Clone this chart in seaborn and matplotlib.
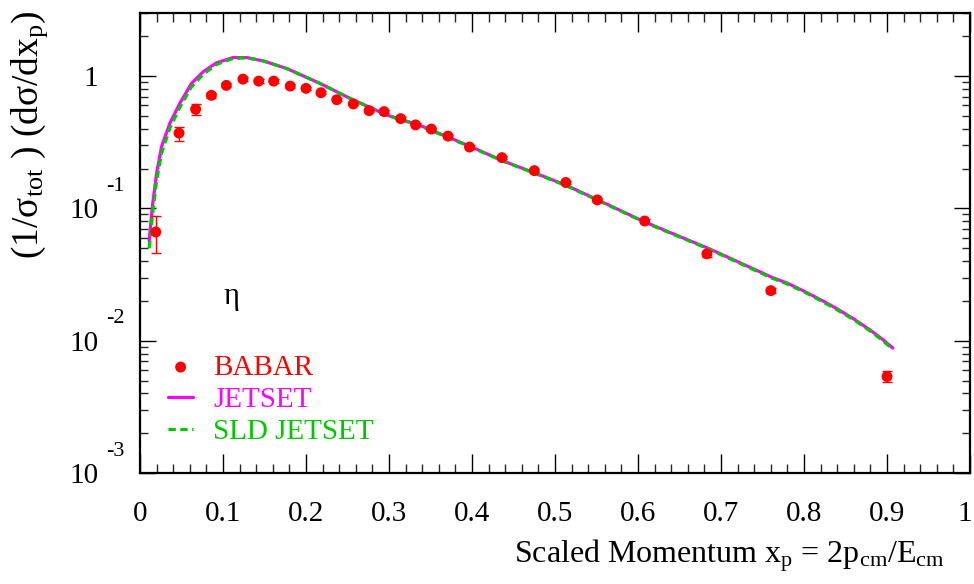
import matplotlib
matplotlib.use("Agg")
import numpy as np
import pandas as pd
import matplotlib.pyplot as plt
import matplotlib.transforms as mtransforms
import seaborn as sns
from matplotlib.ticker import FixedLocator, MultipleLocator, LogLocator, NullFormatter, FuncFormatter

# ---- data -------------------------------------------------------------
# BABAR eta spectrum: scaled momentum, (1/sigma) dsigma/dx, uncertainty
babar_x = [0.019, 0.047, 0.067, 0.086, 0.104, 0.124, 0.143, 0.161, 0.181, 0.200,
           0.218, 0.237, 0.257, 0.276, 0.294, 0.314, 0.332, 0.351, 0.371, 0.397,
           0.436, 0.475, 0.513, 0.551, 0.608, 0.683, 0.760, 0.900]
babar_y = [0.0664, 0.371, 0.562, 0.716, 0.851, 0.949, 0.917, 0.917, 0.841, 0.808,
           0.749, 0.663, 0.616, 0.548, 0.539, 0.477, 0.428, 0.398, 0.352, 0.291,
           0.242, 0.193, 0.157, 0.116, 0.0803, 0.0453, 0.0239, 0.00536]
babar_err = [0.0205, 0.045, 0.053, 0.030, 0.030, 0.030, 0.028, 0.026, 0.024, 0.022,
             0.020, 0.018, 0.016, 0.015, 0.014, 0.012, 0.011, 0.010, 0.009, 0.008,
             0.007, 0.006, 0.005, 0.004, 0.003, 0.002, 0.001, 0.0005]

# JETSET prediction
jetset_x = [0.011, 0.0149, 0.020, 0.026, 0.036, 0.048, 0.062, 0.076, 0.092, 0.112,
            0.129, 0.149, 0.177, 0.217, 0.257, 0.297, 0.337, 0.398, 0.437, 0.475,
            0.513, 0.552, 0.609, 0.686, 0.761, 0.780, 0.800, 0.820, 0.840, 0.860,
            0.880, 0.895, 0.907]
jetset_y = [0.057, 0.104, 0.185, 0.294, 0.441, 0.623, 0.881, 1.077, 1.26, 1.381,
            1.38, 1.30, 1.14, 0.88, 0.66, 0.509, 0.425, 0.294, 0.229, 0.186,
            0.150, 0.1156, 0.0785, 0.0495, 0.0302, 0.0272, 0.0237, 0.0204, 0.0174,
            0.0146, 0.0120, 0.0102, 0.0088]

# SLD-tuned JETSET prediction
sld_x = [0.011, 0.0149, 0.020, 0.026, 0.036, 0.048, 0.062, 0.076, 0.092, 0.112,
         0.129, 0.149, 0.177, 0.217, 0.257, 0.297, 0.337, 0.398, 0.437, 0.475,
         0.513, 0.552, 0.609, 0.686, 0.761, 0.780, 0.800, 0.820, 0.840, 0.860,
         0.880, 0.895, 0.907]
sld_y = [0.050, 0.088, 0.163, 0.262, 0.405, 0.580, 0.830, 1.03, 1.225, 1.36,
         1.375, 1.30, 1.14, 0.88, 0.66, 0.507, 0.422, 0.292, 0.228, 0.185,
         0.149, 0.1148, 0.078, 0.0490, 0.0298, 0.0268, 0.0234, 0.0201, 0.0171,
         0.0144, 0.0118, 0.0100, 0.0086]

x_ticks = [0, 0.1, 0.2, 0.3, 0.4, 0.5, 0.6, 0.7, 0.8, 0.9, 1.0]
y_ticks = [1e-3, 1e-2, 1e-1, 1.0]
y_tick_labels = ["10", "10", "10", "1"]
y_exponents = ["-3", "-2", "-1"]

RED = "#ff0000"
MAGENTA = "#ff00ff"
GREEN = "#00c800"

# ---- style ------------------------------------------------------------
sns.set_theme(style="ticks")
plt.rcParams["font.family"] = ["Liberation Serif", "DejaVu Serif"]
plt.rcParams["mathtext.fontset"] = "custom"
plt.rcParams["mathtext.rm"] = "Liberation Serif"
plt.rcParams["mathtext.it"] = "Liberation Serif:italic"
plt.rcParams["mathtext.bf"] = "Liberation Serif:bold"

W, H = 974, 584
fig = plt.figure(figsize=(W / 100, H / 100), dpi=100)
fig.patch.set_facecolor("white")
ax = fig.add_axes([140 / W, 1 - 473 / H, 830 / W, 460 / H])
ax.set_facecolor("white")

babar = pd.DataFrame({"x": babar_x, "y": babar_y, "err": babar_err})
jetset = pd.DataFrame({"x": jetset_x, "y": jetset_y})
sld = pd.DataFrame({"x": sld_x, "y": sld_y})

ax.set_yscale("log")

# model curves
sns.lineplot(data=jetset, x="x", y="y", ax=ax, color=MAGENTA, lw=2.3,
             estimator=None, sort=False, zorder=2)
line_jetset = ax.lines[-1]
sns.lineplot(data=sld, x="x", y="y", ax=ax, color=GREEN, lw=2.3,
             estimator=None, sort=False, zorder=3)
line_sld = ax.lines[-1]
line_sld.set_linestyle((0, (2.3, 1.4)))

# data with error bars
ax.errorbar(babar["x"], babar["y"], yerr=babar["err"], fmt="none",
            ecolor=RED, elinewidth=1.0, capsize=3.6, capthick=1.0, zorder=4)
sns.scatterplot(data=babar, x="x", y="y", ax=ax, color=RED, s=62,
                edgecolor="none", linewidth=0, zorder=5)
pts = ax.collections[-1]

# ---- axes ---------------------------------------------------------------
ax.set_xlim(0, 1)
ax.set_ylim(1e-3, 3)
ax.xaxis.set_major_locator(FixedLocator(x_ticks))
ax.xaxis.set_minor_locator(MultipleLocator(0.02))
ax.xaxis.set_major_formatter(FuncFormatter(lambda v, p: f"{v:g}"))
ax.yaxis.set_major_locator(FixedLocator(y_ticks))
ax.yaxis.set_minor_locator(LogLocator(base=10, subs=np.arange(2, 10)))
ax.yaxis.set_minor_formatter(NullFormatter())
ax.set_yticklabels(y_tick_labels)

for s in ax.spines.values():
    s.set_visible(True)
    s.set_linewidth(1.6)
    s.set_color("black")

ax.tick_params(axis="x", which="major", direction="in", length=13.5, width=1.0,
               top=True, bottom=True, labelsize=21, pad=20, colors="black")
ax.tick_params(axis="x", which="minor", direction="in", length=6.5, width=1.0,
               top=True, bottom=True)
ax.tick_params(axis="y", which="major", direction="in", length=11.5, width=1.0,
               left=True, right=True, labelsize=21, pad=30, colors="black")
ax.tick_params(axis="y", which="minor", direction="in", length=6, width=1.0,
               left=True, right=True)
ax.grid(False)

# raised exponents for the decade labels
for val, ex in zip(y_ticks[:3], y_exponents):
    ax.annotate(ex, xy=(0, val), xycoords=ax.get_yaxis_transform(),
                xytext=(-34, 22), textcoords="offset pixels",
                ha="left", va="center", fontsize=16, color="black",
                annotation_clip=False)

ax.set_xlabel(r"Scaled Momentum x$_\mathregular{p}$ = 2p$_\mathregular{cm}$/E$_\mathregular{cm}$",
              fontsize=23, color="black", ha="right")
ax.xaxis.set_label_coords(0.97, -0.14)
ax.set_ylabel("")

fig.text(30 / W, 1 - 10 / H,
         r"(1/σ$_\mathregular{tot}$ ) (dσ/dx$_\mathregular{p}$)",
         rotation=90, ha="center", va="top", fontsize=27, color="black")

ax.text(0.11, 0.383, "η", transform=ax.transAxes, fontsize=22,
        ha="center", va="center", color="black")

leg = ax.legend(handles=[pts, line_jetset, line_sld],
                labels=["BABAR", "JETSET", "SLD JETSET"],
                loc="upper left", bbox_to_anchor=(0.034, 0.258),
                frameon=False, fontsize=21, handlelength=0.85,
                handletextpad=0.7, labelspacing=0.2, borderpad=0,
                borderaxespad=0, scatterpoints=1)
for txt, c in zip(leg.get_texts(), [RED, MAGENTA, GREEN]):
    txt.set_color(c)

# keep the last x tick label inside the canvas
last = ax.xaxis.get_major_ticks()[-1].label1
last.set_transform(last.get_transform() +
                   mtransforms.ScaledTranslation(-5 / 100, 0, fig.dpi_scale_trans))

fig.savefig("out.png", dpi=100, facecolor="white")
